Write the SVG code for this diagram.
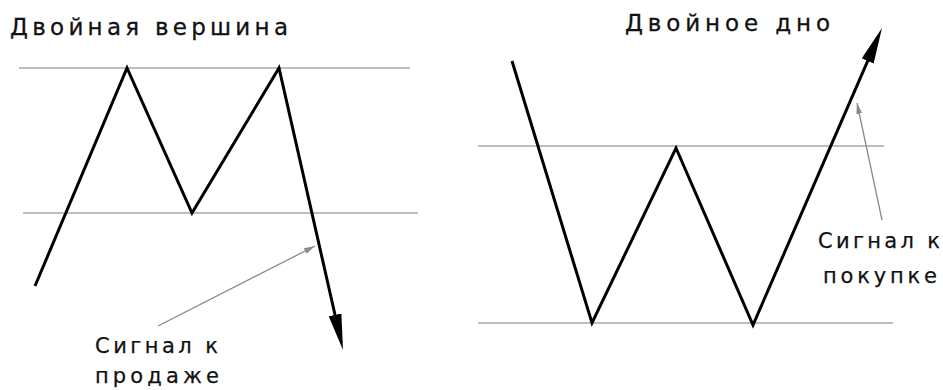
<svg xmlns="http://www.w3.org/2000/svg" width="943" height="390" viewBox="0 0 943 390">
  <style>
    .bg { fill: #ffffff; }
    .level { stroke: #a8a8a8; stroke-width: 1.5; fill: none; }
    .price { stroke: #000000; stroke-width: 3; fill: none; stroke-linejoin: miter; stroke-miterlimit: 10; }
    .pointer { stroke: #8a8a8a; stroke-width: 1.3; fill: none; }
    .title { font-family: "DejaVu Sans", "Noto Sans", sans-serif; font-size: 23px; fill: #111111; stroke: #111111; stroke-width: 0.3; }
    .label { font-family: "DejaVu Sans", "Noto Sans", sans-serif; font-size: 21px; fill: #111111; stroke: #111111; stroke-width: 0.25; }
  </style>
  <defs>
    <marker id="bigArrow" viewBox="0 0 36 13" refX="16" refY="6.5" markerWidth="36" markerHeight="13" markerUnits="userSpaceOnUse" orient="auto">
      <path d="M0,0 L36,6.5 L0,13 Z" fill="#000000"/>
    </marker>
    <marker id="smallArrow" viewBox="0 0 11 6" refX="11" refY="3" markerWidth="11" markerHeight="6" markerUnits="userSpaceOnUse" orient="auto">
      <path d="M0,0 L11,3 L0,6 Z" fill="#8a8a8a"/>
    </marker>
  </defs>
  <rect class="bg" x="0" y="0" width="943" height="390"/>

  <g id="double-top">
    <text class="title" x="10" y="35" textLength="278" lengthAdjust="spacing">Двойная вершина</text>
    <line class="level" x1="19" y1="68" x2="410" y2="68"/>
    <line class="level" x1="23" y1="213" x2="418" y2="213"/>
  </g>

  <g id="sell-signal-label">
    <text class="label" x="95" y="353" textLength="123" lengthAdjust="spacing">Сигнал к</text>
    <text class="label" x="95" y="383" textLength="124" lengthAdjust="spacing">продаже</text>
  </g>

  <g id="double-bottom">
    <text class="title" x="625" y="31" textLength="205" lengthAdjust="spacing">Двойное дно</text>
    <line class="level" x1="478" y1="146" x2="884" y2="146"/>
    <line class="level" x1="478" y1="323" x2="893" y2="323"/>
  </g>

  <g id="buy-signal-label">
    <text class="label" x="818" y="248" textLength="122" lengthAdjust="spacing">Сигнал к</text>
    <text class="label" x="823" y="283" textLength="114" lengthAdjust="spacing">покупке</text>
  </g>

  <g id="connectors">
    <polyline class="price" points="35,286 127,68 192,213 279,68 338.57,330.5" marker-end="url(#bigArrow)"/>
    <polyline class="price" points="512,61 592,323 676,148 753,325 874.03,46.34" marker-end="url(#bigArrow)"/>
    <line class="pointer" x1="158" y1="326" x2="315" y2="246" marker-end="url(#smallArrow)"/>
    <line class="pointer" x1="882" y1="220" x2="857" y2="103" marker-end="url(#smallArrow)"/>
  </g>
</svg>
